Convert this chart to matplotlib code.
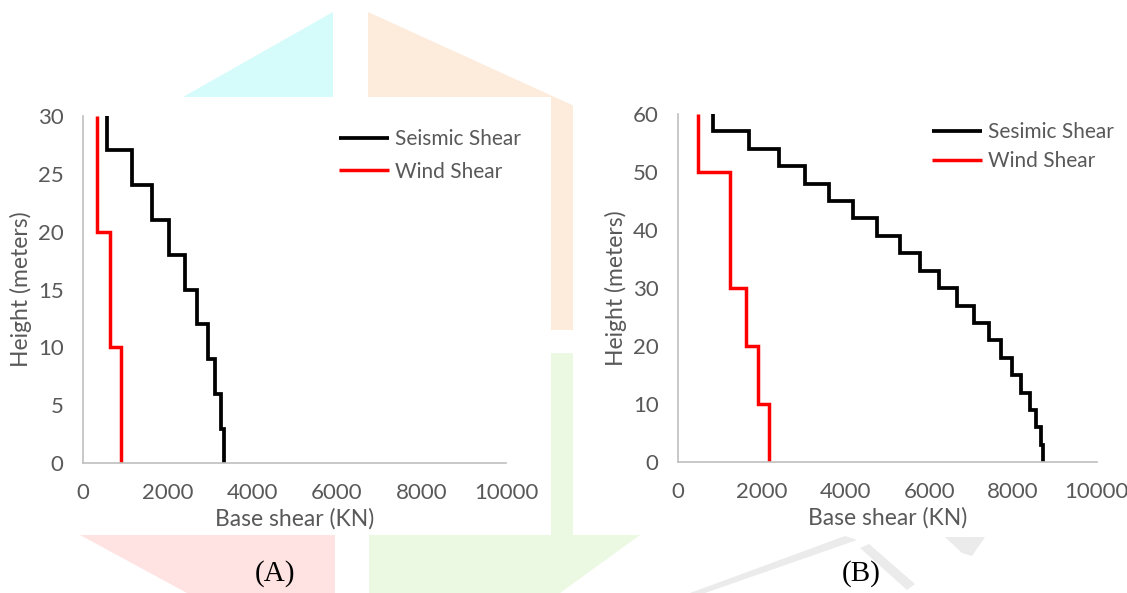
import numpy as np
import matplotlib.pyplot as plt
from matplotlib.patches import Polygon, Rectangle

# ---- data ----
# chart A: 30 m building
heights_A = [30, 27, 24, 21, 18, 15, 12, 9, 6, 3, 0]
seismic_A = [572, 1146, 1635, 2040, 2411, 2698, 2951, 3128, 3263, 3330]
wind_heights_A = [30, 20, 10, 0]
wind_A = [338, 633, 895]

# chart B: 60 m building
heights_B = [60, 57, 54, 51, 48, 45, 42, 39, 36, 33, 30, 27, 24, 21, 18, 15, 12, 9, 6, 3, 0]
seismic_B = [841, 1684, 2411, 3024, 3597, 4178, 4749, 5297, 5771, 6222,
             6655, 7064, 7415, 7709, 7979, 8200, 8396, 8543, 8658, 8707]
wind_heights_B = [60, 50, 30, 20, 10, 0]
wind_B = [466, 1251, 1619, 1904, 2166]

W, H = 1127, 593
GREY = '#595959'
AXIS = '#bfbfbf'
FONT = 'Lato'

plt.rcParams['font.family'] = [FONT, 'DejaVu Sans']

fig = plt.figure(figsize=(W / 100, H / 100), dpi=100)


def fx(x):
    return x / W


def fy(y):
    return 1 - y / H


def poly(pts, color, z=-10):
    p = Polygon([(fx(x), fy(y)) for x, y in pts], closed=True, transform=fig.transFigure,
                facecolor=color, edgecolor='none', zorder=z)
    fig.add_artist(p)


# faint watermark behind the charts
poly([(183, 97), (333, 12), (333, 97)], '#d6fbfb')
poly([(368, 12), (583, 110), (583, 330), (368, 330)], '#fdebdb')
poly([(369, 353), (583, 353), (583, 535), (640, 535), (560, 593), (369, 593)], '#ebf8e2')
poly([(80, 535), (335, 535), (335, 593), (187, 593)], '#ffe2e2')
for pts in [[(845, 536), (857, 540), (705, 593), (690, 593)],
            [(860, 548), (869, 544), (915, 584), (907, 590)],
            [(945, 537), (985, 537), (972, 556), (962, 553)]]:
    poly(pts, '#ebebeb')

for x0, y0, x1, y1 in [(0, 97, 551, 535), (573, 60, W, 535)]:
    fig.add_artist(Rectangle((fx(x0), fy(y1)), fx(x1) - fx(x0), fy(y0) - fy(y1),
                             transform=fig.transFigure, facecolor='white',
                             edgecolor='none', zorder=-5))


def steps(levels, vals):
    y = np.repeat(levels, 2)[1:-1]
    x = np.repeat(vals, 2)
    return x, y


def draw(rect, levels, seis, wlevels, wind, ymax, yticks, seis_label, leg_xy):
    ax = fig.add_axes(rect)
    ax.set_facecolor('none')
    x, y = steps(levels, seis)
    ax.plot(x, y, color='black', lw=2.7, label=seis_label,
            solid_joinstyle='miter', solid_capstyle='butt')
    x, y = steps(wlevels, wind)
    ax.plot(x, y, color='#ff0000', lw=2.5, label='Wind Shear',
            solid_joinstyle='miter', solid_capstyle='butt')
    ax.set_xlim(0, 10000)
    ax.set_ylim(0, ymax)
    ax.set_xticks([0, 2000, 4000, 6000, 8000, 10000])
    ax.set_yticks(yticks)
    for s in ['top', 'right']:
        ax.spines[s].set_visible(False)
    for s in ['left', 'bottom']:
        ax.spines[s].set_color(AXIS)
        ax.spines[s].set_linewidth(1.2)
    ax.tick_params(length=0, labelsize=16, labelcolor=GREY, pad=14)
    ax.set_xlabel('Base shear (KN)', fontsize=16.5, color=GREY, labelpad=4)
    ax.set_ylabel('Height (meters)', fontsize=16.5, color=GREY, labelpad=4)
    leg = ax.legend(loc='upper left', bbox_to_anchor=(fx(leg_xy[0]), fy(leg_xy[1])),
                    bbox_transform=fig.transFigure, frameon=False, fontsize=15,
                    handlelength=2.4, handletextpad=0.3, labelspacing=leg_xy[2],
                    borderpad=0, borderaxespad=0)
    for t in leg.get_texts():
        t.set_color(GREY)
    return ax


draw([fx(83), fy(463.3), fx(506.4) - fx(83), fy(115.7) - fy(463.3)],
     heights_A, seismic_A, wind_heights_A, wind_A, 30, [0, 5, 10, 15, 20, 25, 30],
     'Seismic Shear', (339, 129, 0.6))
draw([fx(678), fy(462.3), fx(1096.8) - fx(678), fy(114) - fy(462.3)],
     heights_B, seismic_B, wind_heights_B, wind_B, 60, [0, 10, 20, 30, 40, 50, 60],
     'Sesimic Shear', (932, 122, 0.45))

fig.text(fx(275), fy(574), '(A)', family='Liberation Serif', fontsize=21,
         ha='center', va='center', color='black')
fig.text(fx(861), fy(574), '(B)', family='Liberation Serif', fontsize=21,
         ha='center', va='center', color='black')

fig.savefig('out.png', dpi=100)
